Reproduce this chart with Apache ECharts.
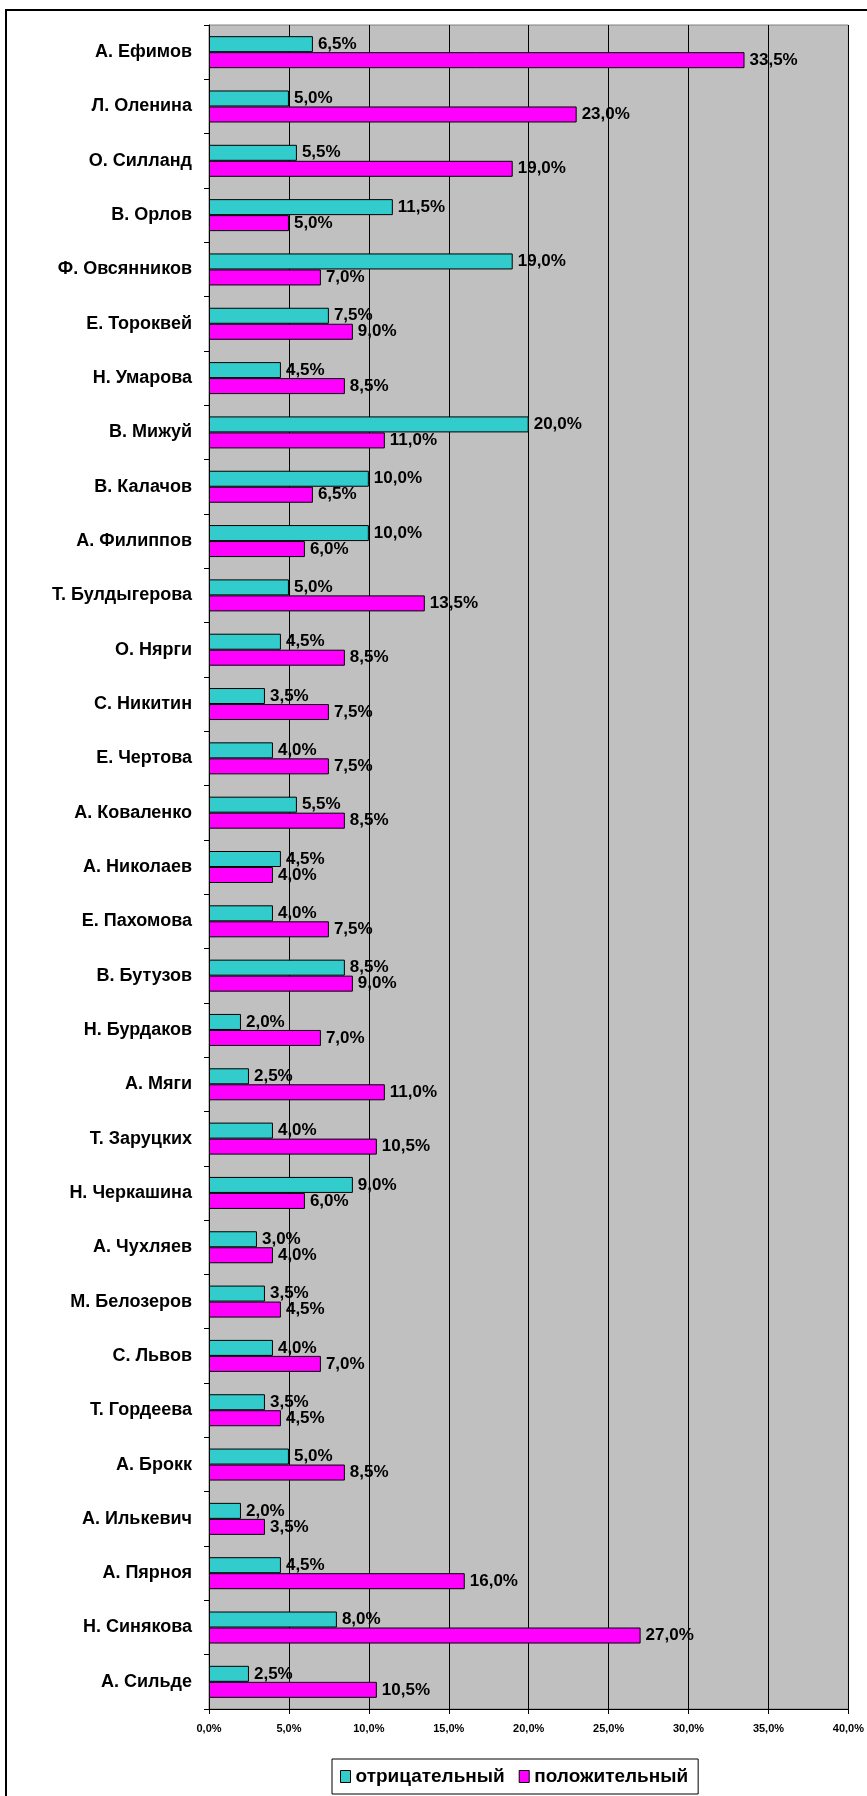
<!DOCTYPE html>
<html>
<head>
<meta charset="utf-8">
<script src="https://cdn.jsdelivr.net/npm/echarts@6/dist/echarts.min.js"></script>
<style>
html,body{margin:0;padding:0;background:#fff;}
#chart{width:867px;height:1796px;}
</style>
</head>
<body>
<div id="chart"></div>
<script>
// names from top to bottom
var names = ['А. Ефимов', 'Л. Оленина', 'О. Силланд', 'В. Орлов', 'Ф. Овсянников', 'Е. Тороквей',
	'Н. Умарова', 'В. Мижуй', 'В. Калачов', 'А. Филиппов', 'Т. Булдыгерова', 'О. Нярги',
	'С. Никитин', 'Е. Чертова', 'А. Коваленко', 'А. Николаев', 'Е. Пахомова', 'В. Бутузов',
	'Н. Бурдаков', 'А. Мяги', 'Т. Заруцких', 'Н. Черкашина', 'А. Чухляев', 'М. Белозеров',
	'С. Львов', 'Т. Гордеева', 'А. Брокк', 'А. Илькевич', 'А. Пярноя', 'Н. Синякова', 'А. Сильде'];
var negative = [6.5, 5.0, 5.5, 11.5, 19.0, 7.5, 4.5, 20.0, 10.0, 10.0, 5.0, 4.5, 3.5, 4.0, 5.5, 4.5,
	4.0, 8.5, 2.0, 2.5, 4.0, 9.0, 3.0, 3.5, 4.0, 3.5, 5.0, 2.0, 4.5, 8.0, 2.5];
var positive = [33.5, 23.0, 19.0, 5.0, 7.0, 9.0, 8.5, 11.0, 6.5, 6.0, 13.5, 8.5, 7.5, 7.5, 8.5, 4.0,
	7.5, 9.0, 7.0, 11.0, 10.5, 6.0, 4.0, 4.5, 7.0, 4.5, 8.5, 3.5, 16.0, 27.0, 10.5];
var seriesNames = ['отрицательный', 'положительный'];

var font = 'Liberation Sans, Arial, sans-serif';
function pct(v) { return v.toFixed(1).replace('.', ',') + '%'; }

var chart = echarts.init(document.getElementById('chart'));

var labelOpt = {
	show: true,
	position: 'right',
	distance: 5,
	color: '#000',
	fontWeight: 'bold',
	fontSize: 17,
	fontFamily: font,
	formatter: function (p) { return pct(p.value); }
};

chart.setOption({
	animation: false,
	backgroundColor: '#fff',
	graphic: [{
		type: 'rect',
		shape: { x: 6, y: 10, width: 900, height: 1900 },
		style: { fill: 'none', stroke: '#000', lineWidth: 2 },
		z: -1
	}],
	grid: {
		left: 209,
		right: 17,
		top: 25,
		bottom: 87,
		show: true,
		backgroundColor: '#c0c0c0',
		borderColor: '#808080',
		borderWidth: 1
	},
	legend: {
		data: seriesNames,
		left: 332,
		top: 1759,
		padding: [8, 10, 8, 8],
		itemWidth: 10,
		itemHeight: 12,
		itemGap: 14,
		icon: 'rect',
		backgroundColor: '#fff',
		borderColor: '#000',
		borderWidth: 1,
		borderRadius: 0,
		itemStyle: { borderColor: '#000', borderWidth: 1 },
		textStyle: { color: '#000', fontSize: 19, fontWeight: 'bold', fontFamily: font }
	},
	xAxis: {
		type: 'value',
		min: 0,
		max: 40,
		interval: 5,
		axisLine: { show: true, lineStyle: { color: '#000', width: 1 } },
		axisTick: { show: true, length: 5, lineStyle: { color: '#000' } },
		splitLine: { show: true, lineStyle: { color: '#000', width: 1 } },
		axisLabel: {
			color: '#000',
			fontSize: 11,
			fontWeight: 'bold',
			fontFamily: font,
			margin: 14,
			formatter: function (v) { return pct(v); }
		}
	},
	yAxis: {
		type: 'category',
		inverse: true,
		data: names,
		axisLine: { show: true, lineStyle: { color: '#000', width: 1 } },
		axisTick: { show: true, length: 5, alignWithLabel: false, lineStyle: { color: '#000' } },
		axisLabel: {
			color: '#000',
			fontSize: 18,
			fontWeight: 'bold',
			fontFamily: font,
			margin: 17
		}
	},
	series: [{
		name: seriesNames[0],
		type: 'bar',
		data: negative,
		barWidth: 16,
		barGap: '0%',
		itemStyle: { color: '#33cccc', borderColor: '#000', borderWidth: 1 },
		label: labelOpt
	}, {
		name: seriesNames[1],
		type: 'bar',
		data: positive,
		barWidth: 16,
		barGap: '0%',
		itemStyle: { color: '#ff00ff', borderColor: '#000', borderWidth: 1 },
		label: labelOpt
	}]
});
</script>
</body>
</html>
